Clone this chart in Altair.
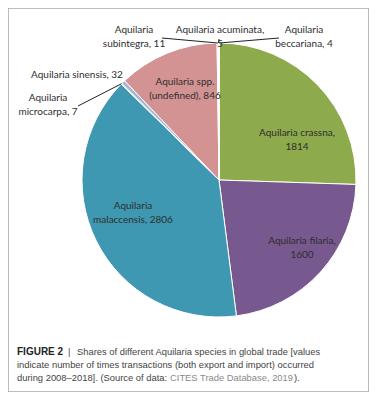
import math
import altair as alt
import pandas as pd

# ---- data ----
species = [
    "Aquilaria beccariana", "Aquilaria crassna", "Aquilaria filaria",
    "Aquilaria malaccensis", "Aquilaria microcarpa", "Aquilaria sinensis",
    "Aquilaria spp. (undefined)", "Aquilaria subintegra", "Aquilaria acuminata",
]
values = [4, 1814, 1600, 2806, 7, 32, 846, 11, 5]
colors = ["#d9d9d9", "#8daa4c", "#77588f", "#3f98b1", "#e6eef5",
          "#a3b6d3", "#d39393", "#ececec", "#ffffff"]

label_texts = [
    "Aquilaria\nbeccariana, 4", "Aquilaria crassna,\n1814", "Aquilaria filaria,\n1600",
    "Aquilaria\nmalaccensis, 2806", "Aquilaria\nmicrocarpa, 7", "Aquilaria sinensis, 32",
    "Aquilaria spp.\n(undefined), 846", "Aquilaria\nsubintegra, 11", "Aquilaria acuminata,\n5",
]

# ---- layout (chart coordinates; view origin = page (8,8)) ----
CX, CY, R = 211, 172, 137
label_x = [296, 289, 294, 125, 40, 69, 177, 126, 212]
label_y = [22, 125, 233, 198, 90, 67, 74, 22, 22]

df = pd.DataFrame({"species": species, "value": values, "idx": list(range(len(species)))})
labels_df = pd.DataFrame({"label": label_texts, "lx": label_x, "ly": label_y})

# leader lines: from the label to the slice edge (angle from the data)
total = sum(values)
cum = 0
mid_angle = {}
for s, v in zip(species, values):
    mid_angle[s] = (cum + v / 2) / total * 2 * math.pi
    cum += v

def edge(s):
    a = mid_angle[s]
    return CX + R * math.sin(a), CY - R * math.cos(a)

leader_from = {
    "Aquilaria subintegra": (154, 30),
    "Aquilaria beccariana": (271, 30),
    "Aquilaria acuminata": (211, 31),
    "Aquilaria microcarpa": (70, 98),
}
rows = []
for s, (fx, fy) in leader_from.items():
    ex, ey = edge(s)
    rows.append({"x": fx, "y": fy, "x2": ex, "y2": ey})
leaders_df = pd.DataFrame(rows)

pie = alt.Chart(df).mark_arc(radius=R, stroke="white", strokeWidth=1).encode(
    theta=alt.Theta("value:Q", stack=True),
    order=alt.Order("idx:Q"),
    color=alt.Color("species:N", scale=alt.Scale(domain=species, range=colors), legend=None),
    x=alt.value(CX),
    y=alt.value(CY),
)

labels = alt.Chart(labels_df).mark_text(
    font="Lato", fontSize=10, color="#2e2e2e", lineBreak="\n", lineHeight=14,
    baseline="middle", align="center",
).encode(
    x=alt.X("lx:Q", scale=None),
    y=alt.Y("ly:Q", scale=None),
    text="label:N",
)

leaders = alt.Chart(leaders_df).mark_rule(color="#222222", strokeWidth=1).encode(
    x=alt.X("x:Q", scale=None), y=alt.Y("y:Q", scale=None),
    x2="x2:Q", y2="y2:Q",
)

cap_font = "Liberation Sans"
def cap(text, x, y, color="#444444", weight="normal", size=9.4):
    return alt.Chart(pd.DataFrame({"t": [text]})).mark_text(
        font=cap_font, fontSize=size, color=color, fontWeight=weight,
        align="left", baseline="middle",
    ).encode(x=alt.value(x), y=alt.value(y), text="t:N")

caption = [
    cap("FIGURE 2", 9, 344, color="#222222", weight="bold", size=10),
    cap("|", 60, 344, color="#444444"),
    cap("Shares of different Aquilaria species in global trade [values", 69, 344),
    cap("indicate number of times transactions (both export and import) occurred", 9, 357),
    cap("during 2008–2018]. (Source of data:", 9, 370),
    cap("CITES Trade Database, 2019", 162, 370, color="#8a8a8a"),
    cap(").", 286, 370),
]

chart = alt.layer(pie, leaders, labels, *caption).properties(
    width=361, height=384, padding=0,
    autosize=alt.AutoSizeParams(type="none"),
).configure_view(stroke="#a6a6a6", strokeWidth=1.5)

chart.save("out.html", embed_options={"renderer": "svg", "actions": False})
